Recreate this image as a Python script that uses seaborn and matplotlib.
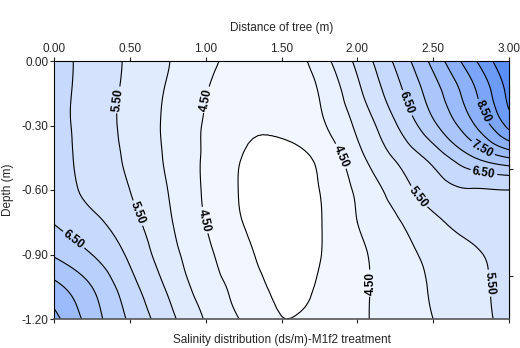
import numpy as np
import matplotlib
matplotlib.use("Agg")
import matplotlib.pyplot as plt
import matplotlib.tri as mtri
from matplotlib.colors import ListedColormap
import seaborn as sns

# ---- data ----
distance = [0.0, 0.25, 0.5, 0.75, 1.0, 1.25, 1.5, 1.75, 2.0, 2.25, 2.5, 2.75, 3.0]
depth = [0.0, -0.15, -0.30, -0.45, -0.60, -0.75, -0.90, -1.05, -1.20]
salinity = [
    [6.20, 5.81, 5.42, 5.02, 4.65, 4.25, 4.15, 4.75, 5.62, 6.58, 7.65, 8.83, 10.00],
    [6.20, 5.78, 5.38, 4.95, 4.52, 4.12, 4.10, 4.52, 5.37, 6.29, 7.26, 8.32, 9.65],
    [6.20, 5.77, 5.36, 4.91, 4.45, 4.08, 4.08, 4.40, 5.10, 5.95, 6.89, 7.88, 9.15],
    [6.25, 5.79, 5.41, 4.93, 4.43, 3.98, 3.85, 4.10, 4.83, 5.54, 6.17, 6.93, 7.50],
    [6.30, 5.86, 5.50, 5.00, 4.43, 3.95, 3.80, 4.00, 4.59, 5.20, 5.76, 5.97, 6.00],
    [6.48, 6.13, 5.67, 5.08, 4.49, 3.99, 3.80, 3.97, 4.50, 4.93, 5.38, 5.68, 5.85],
    [6.95, 6.50, 5.91, 5.21, 4.62, 4.12, 3.82, 3.98, 4.38, 4.79, 5.12, 5.40, 5.75],
    [7.65, 7.00, 6.19, 5.43, 4.76, 4.28, 3.90, 4.05, 4.39, 4.72, 5.05, 5.35, 5.65],
    [8.15, 7.25, 6.42, 5.67, 4.96, 4.44, 4.01, 4.20, 4.42, 4.70, 5.00, 5.34, 5.60],
]
levels = [3.5, 4.0, 4.5, 5.0, 5.5, 6.0, 6.5, 7.0, 7.5, 8.0, 8.5, 9.0, 9.5, 10.0, 10.5]
label_levels = [4.5, 5.5, 6.5, 7.5, 8.5]
plain_levels = [4.0, 5.0, 6.0, 7.0, 8.0, 9.0, 9.5]
label_positions = [
    (0.422, -0.181), (1.009, -0.181), (0.996, -0.740), (0.554, -0.707),
    (0.138, -0.823), (1.866, -0.451), (2.327, -0.195), (2.822, -0.237),
    (2.829, -0.405), (2.829, -0.540), (2.393, -0.637), (2.084, -1.033),
    (2.875, -1.033),
]
x_ticks = [0.0, 0.5, 1.0, 1.5, 2.0, 2.5, 3.0]
y_ticks = [0.0, -0.30, -0.60, -0.90, -1.20]
title_top = "Distance of tree (m)"
y_title = "Depth (m)"
caption = "Salinity distribution (ds/m)-M1f2 treatment"

# ---- style ----
sns.set_style("white")
plt.rcParams["font.family"] = ["Liberation Sans", "DejaVu Sans"]
plt.rcParams["font.size"] = 8.5

fig = plt.figure(figsize=(5.2, 3.48), dpi=100)
ax = fig.add_axes([54 / 520, 1 - 319 / 348, 455 / 520, 258 / 348])

X, Y = np.meshgrid(distance, depth)
Z = np.array(salinity)

# smooth contouring of the gridded readings through matplotlib's tri refiner
triang = mtri.Triangulation(X.ravel(), Y.ravel())
refiner = mtri.UniformTriRefiner(triang)
tri_ref, z_ref = refiner.refine_field(Z.ravel(), subdiv=3)

n_bands = len(levels) - 1
cont = sns.blend_palette(["#f2f7ff", "#5a8ef6"], n_colors=256, as_cmap=True)
inner = [cont((k / (n_bands - 3)) ** 1.25) for k in range(n_bands - 2)]
pal = ["#ffffff"] + inner + [cont(1.0)]
cmap = ListedColormap(pal)

ax.tricontourf(tri_ref, z_ref, levels=levels, cmap=cmap)
ax.tricontour(tri_ref, z_ref, levels=plain_levels, colors="black", linewidths=0.8)
cs_lab = ax.tricontour(tri_ref, z_ref, levels=label_levels, colors="black", linewidths=0.8)
labels = ax.clabel(cs_lab, fmt="%.2f", fontsize=8.5,
                   inline=True, inline_spacing=2, manual=label_positions)
for t in labels:
    t.set_fontweight("bold")
    t.set_color("black")

ax.set_xlim(0, 3)
ax.set_ylim(-1.2, 0)
ax.set_xticks(x_ticks)
ax.set_xticklabels([f"{v:.2f}" for v in x_ticks])
ax.set_yticks(y_ticks)
ax.set_yticklabels([f"{v:.2f}" for v in y_ticks])
ax.tick_params(axis="x", top=True, labeltop=True, bottom=True, labelbottom=False,
               direction="out", length=3, width=0.8, pad=1, labelsize=8.5)
ax.tick_params(axis="y", left=True, direction="out", length=3, width=0.8, pad=1, labelsize=8.5)
ax.xaxis.set_label_position("top")
ax.set_xlabel(title_top, fontsize=8.5, labelpad=9)
ax.set_ylabel(y_title, fontsize=8.5, labelpad=5)

sec = ax.secondary_yaxis("right")
sec.set_yticks([-0.5, -1.0])
sec.set_yticklabels(["", ""])
sec.tick_params(direction="out", length=3, width=0.8)

for s in ax.spines.values():
    s.set_color("black")
    s.set_linewidth(0.8)
    s.set_visible(True)
ax.spines["bottom"].set_color("#555555")
ax.spines["bottom"].set_linewidth(1.2)
sec.spines["right"].set_color("black")
sec.spines["right"].set_linewidth(0.8)

fig.text(281.5 / 520, 1 - 340 / 348, caption, ha="center", va="center", fontsize=8.5)

fig.savefig("out.png", dpi=100)
